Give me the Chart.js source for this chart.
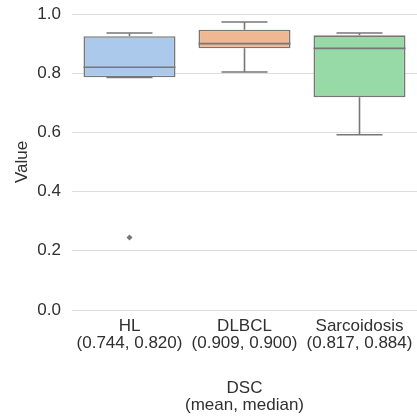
<!DOCTYPE html>
<html>
<head>
<meta charset="utf-8">
<script src="https://cdn.jsdelivr.net/npm/chart.js@4.4.1/dist/chart.umd.min.js"></script>
<style>
  html, body { margin: 0; padding: 0; background: #ffffff; }
  #wrap { width: 417px; height: 416px; }
</style>
</head>
<body>
<div id="wrap"><canvas id="chart" width="417" height="416"></canvas></div>
<script>
// Categories and box statistics
const categories = ["HL", "DLBCL", "Sarcoidosis"];
const tickLabels = [
  ["HL", "(0.744, 0.820)"],
  ["DLBCL", "(0.909, 0.900)"],
  ["Sarcoidosis", "(0.817, 0.884)"],
];
const q1Values = [0.786, 0.884, 0.719];
const q3Values = [0.925, 0.947, 0.928];
const medianValues = [0.820, 0.900, 0.884];
const whiskerLow = [0.786, 0.804, 0.592];
const whiskerHigh = [0.936, 0.973, 0.936];
const outliers = [{ x: "HL", y: 0.245 }];

const BOX_COLORS = ["#abc9ea", "#efb792", "#98daa7"];
const LINE_COLOR = "#777777";
const TEXT_COLOR = "#303030";
const FONT = "'Liberation Sans', Arial, sans-serif";

// Whiskers, caps and medians drawn on top of the floating bars
const boxPlugin = {
  id: "boxWhiskers",
  afterDatasetsDraw(chart) {
    const ctx = chart.ctx;
    const x = chart.scales.x;
    const y = chart.scales.y;
    const meta = chart.getDatasetMeta(0);
    ctx.save();
    ctx.strokeStyle = LINE_COLOR;
    ctx.lineWidth = 1.6;
    meta.data.forEach((bar, i) => {
      const cx = x.getPixelForValue(i);
      const half = bar.width / 2;
      const cap = bar.width / 4;
      const yQ1 = y.getPixelForValue(q1Values[i]);
      const yQ3 = y.getPixelForValue(q3Values[i]);
      const yLo = y.getPixelForValue(whiskerLow[i]);
      const yHi = y.getPixelForValue(whiskerHigh[i]);
      const yMed = y.getPixelForValue(medianValues[i]);
      ctx.beginPath();
      // whiskers
      ctx.moveTo(cx, yQ3); ctx.lineTo(cx, yHi);
      ctx.moveTo(cx, yQ1); ctx.lineTo(cx, yLo);
      // caps
      ctx.moveTo(cx - cap, yHi); ctx.lineTo(cx + cap, yHi);
      ctx.moveTo(cx - cap, yLo); ctx.lineTo(cx + cap, yLo);
      // median
      ctx.moveTo(cx - half, yMed); ctx.lineTo(cx + half, yMed);
      ctx.stroke();
    });
    ctx.restore();
  },
};

// Let tick labels overhang the plot area instead of shrinking it
function noEdgePadding(scale) {
  scale.paddingLeft = 0;
  scale.paddingRight = 0;
  scale.paddingTop = 0;
  scale.paddingBottom = 0;
}

new Chart(document.getElementById("chart"), {
  type: "bar",
  data: {
    labels: tickLabels,
    datasets: [
      {
        type: "bar",
        data: categories.map((c, i) => [q1Values[i], q3Values[i]]),
        backgroundColor: BOX_COLORS,
        borderColor: LINE_COLOR,
        borderWidth: 1.6,
        borderSkipped: false,
        categoryPercentage: 0.8,
        barPercentage: 1.0,
        order: 2,
      },
      {
        type: "line",
        data: outliers.map(o => ({ x: categories.indexOf(o.x), y: o.y })),
        showLine: false,
        pointStyle: "rectRot",
        pointRadius: 3,
        pointBackgroundColor: LINE_COLOR,
        pointBorderColor: LINE_COLOR,
        pointBorderWidth: 0,
        order: 1,
      },
    ],
  },
  options: {
    responsive: false,
    animation: false,
    layout: { autoPadding: false, padding: { top: 14, right: 0, left: 4, bottom: 2 } },
    plugins: {
      legend: { display: false },
      tooltip: { enabled: false },
    },
    scales: {
      x: {
        afterFit: noEdgePadding,
        grid: { display: false, drawTicks: false },
        border: { display: false },
        ticks: {
          color: TEXT_COLOR,
          font: { family: FONT, size: 17, lineHeight: 1.0 },
          maxRotation: 0,
          padding: 8,
        },
        title: {
          display: true,
          text: ["DSC", "(mean, median)"],
          color: TEXT_COLOR,
          font: { family: FONT, size: 17, lineHeight: 1.0 },
          padding: { top: 20, bottom: 0 },
        },
      },
      y: {
        afterFit(scale) {
          noEdgePadding(scale);
          scale.width = 68;
        },
        min: 0,
        max: 1,
        grid: { color: "#dedede", lineWidth: 1, drawTicks: false },
        border: { display: false },
        ticks: {
          stepSize: 0.2,
          color: TEXT_COLOR,
          font: { family: FONT, size: 17 },
          padding: 11,
          callback: v => v.toFixed(1),
        },
        title: {
          display: true,
          text: "Value",
          color: TEXT_COLOR,
          font: { family: FONT, size: 17 },
          padding: { top: 8, bottom: 5 },
        },
      },
    },
  },
  plugins: [boxPlugin],
});
</script>
</body>
</html>
